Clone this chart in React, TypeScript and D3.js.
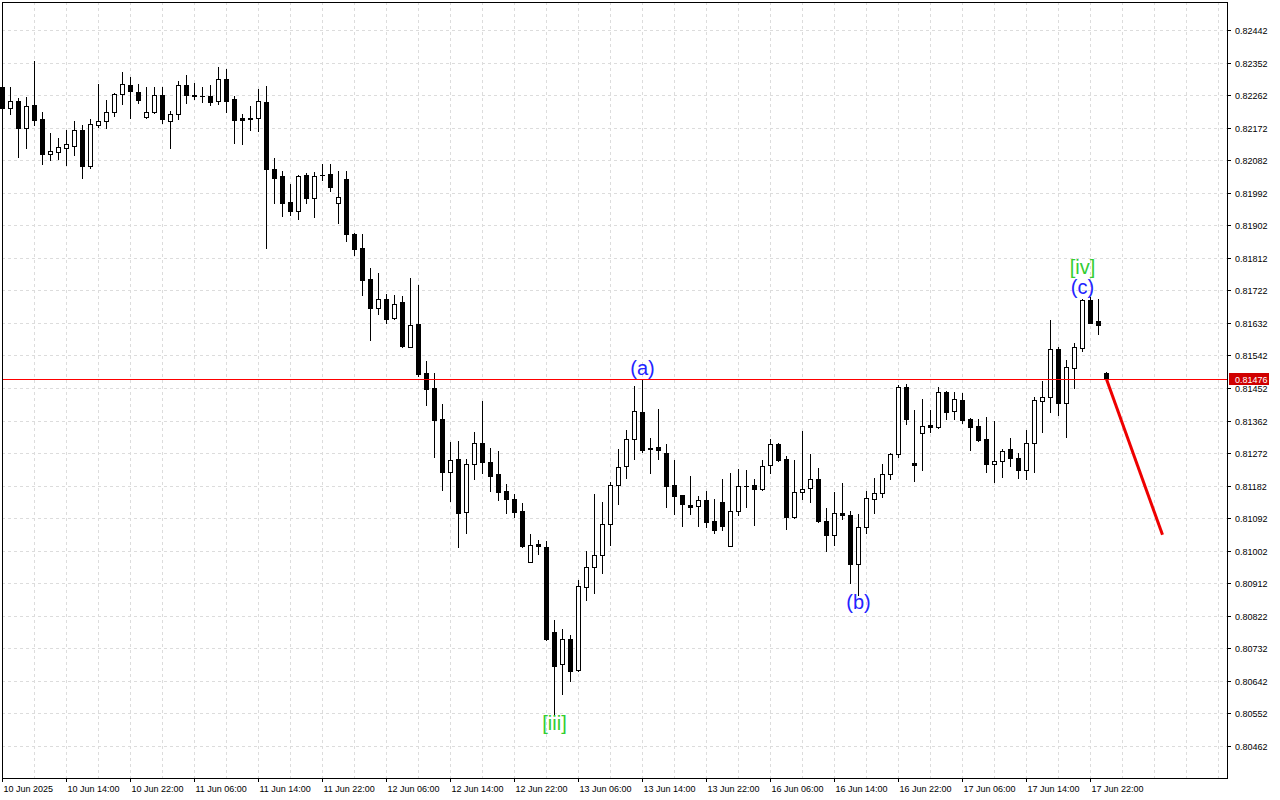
import React from "react";
import * as d3 from "d3";

// ---------- data (hourly candles, 10 Jun 06:00 .. 18 Jun 00:00) ----------
const opens = [
  0.82284, 0.82226, 0.82246, 0.82172, 0.82234, 0.82196, 0.821, 0.82106, 0.82117, 0.82122,
  0.82166, 0.82067, 0.8218, 0.8219, 0.82216, 0.82265, 0.8229, 0.8227, 0.82202, 0.82214,
  0.82261, 0.82191, 0.82209, 0.82289, 0.82263, 0.8226, 0.8226, 0.82247, 0.82306, 0.8225,
  0.82199, 0.82198, 0.82198, 0.82242, 0.82058, 0.82038, 0.81967, 0.81942, 0.82041, 0.81978,
  0.8204, 0.82043, 0.81963, 0.82029, 0.81878, 0.81838, 0.81754, 0.81674, 0.81697, 0.81646,
  0.8169, 0.81566, 0.8163, 0.81494, 0.81452, 0.81367, 0.81221, 0.81256, 0.8111, 0.81241,
  0.81299, 0.81248, 0.81214, 0.81167, 0.81144, 0.81112, 0.8097, 0.8102, 0.81013, 0.80778,
  0.80688, 0.80758, 0.80673, 0.80901, 0.80956, 0.8099, 0.81075, 0.81183, 0.81236, 0.8131,
  0.81385, 0.81286, 0.81288, 0.81273, 0.81184, 0.81156, 0.81129, 0.81125, 0.81143, 0.81084,
  0.81137, 0.81016, 0.81111, 0.8118, 0.81183, 0.81174, 0.81238, 0.81296, 0.81255, 0.81095,
  0.81165, 0.81175, 0.812, 0.81084, 0.81045, 0.81107, 0.811, 0.80965, 0.81067, 0.81144,
  0.81161, 0.81214, 0.81269, 0.81454, 0.81244, 0.81327, 0.81349, 0.81344, 0.8144, 0.81388,
  0.81418, 0.81367, 0.81346, 0.8131, 0.81243, 0.8125, 0.81283, 0.81258, 0.81225, 0.81301,
  0.81415, 0.81426, 0.81559, 0.8141, 0.81507, 0.81562, 0.81694, 0.81637, 0.81494,
];
const highs = [
  0.8229, 0.82284, 0.82253, 0.82257, 0.82357, 0.82215, 0.82157, 0.82143, 0.82165, 0.8219,
  0.82179, 0.82196, 0.82292, 0.82248, 0.82267, 0.82325, 0.82311, 0.82292, 0.82284, 0.82284,
  0.82284, 0.82218, 0.823, 0.82318, 0.82295, 0.82285, 0.82289, 0.8234, 0.82334, 0.8226,
  0.8221, 0.82232, 0.82279, 0.82287, 0.82088, 0.82052, 0.82017, 0.82042, 0.82046, 0.82049,
  0.82071, 0.82071, 0.82052, 0.82052, 0.8188, 0.81878, 0.81785, 0.8177, 0.81711, 0.81709,
  0.81707, 0.81756, 0.81737, 0.81527, 0.81494, 0.81408, 0.81303, 0.81306, 0.81256, 0.8133,
  0.81416, 0.81285, 0.81278, 0.81187, 0.81159, 0.81134, 0.81048, 0.81032, 0.81029, 0.80811,
  0.80786, 0.80769, 0.80921, 0.81001, 0.81159, 0.81137, 0.81191, 0.81283, 0.81335, 0.81458,
  0.81474, 0.81313, 0.81394, 0.81297, 0.81253, 0.81156, 0.81209, 0.81154, 0.81168, 0.81144,
  0.812, 0.81216, 0.81227, 0.81225, 0.812, 0.81253, 0.8131, 0.81299, 0.81264, 0.81252,
  0.81332, 0.8127, 0.8123, 0.81119, 0.81164, 0.81189, 0.81111, 0.81103, 0.81167, 0.81202,
  0.81241, 0.81273, 0.81461, 0.81463, 0.81391, 0.81422, 0.81391, 0.81454, 0.81443, 0.8144,
  0.81438, 0.81368, 0.81366, 0.81372, 0.81361, 0.81283, 0.81313, 0.81272, 0.81336, 0.81427,
  0.81471, 0.8164, 0.81564, 0.8153, 0.81577, 0.81697, 0.81705, 0.81697, 0.81496,
];
const lows = [
  0.82215, 0.82211, 0.82092, 0.82117, 0.82179, 0.82072, 0.82083, 0.82085, 0.82069, 0.82096,
  0.82032, 0.82061, 0.82175, 0.82172, 0.82205, 0.82237, 0.822, 0.82241, 0.822, 0.82213,
  0.82184, 0.82117, 0.82197, 0.82241, 0.8225, 0.82244, 0.82235, 0.82238, 0.82216, 0.8213,
  0.82127, 0.82166, 0.82164, 0.8184, 0.81964, 0.81929, 0.8193, 0.8192, 0.81964, 0.81926,
  0.82027, 0.81997, 0.81909, 0.81859, 0.81821, 0.81709, 0.81585, 0.81657, 0.81631, 0.81643,
  0.81566, 0.81564, 0.81486, 0.81405, 0.81262, 0.8117, 0.8114, 0.81013, 0.81052, 0.81201,
  0.81216, 0.81168, 0.81142, 0.81107, 0.81096, 0.81011, 0.8097, 0.80992, 0.80755, 0.80548,
  0.80606, 0.80643, 0.8067, 0.80866, 0.80886, 0.80941, 0.81017, 0.8113, 0.81202, 0.81257,
  0.81276, 0.81218, 0.81257, 0.81122, 0.81104, 0.81071, 0.81104, 0.81069, 0.81067, 0.8105,
  0.81059, 0.81016, 0.811, 0.81124, 0.81074, 0.81171, 0.81218, 0.81249, 0.81063, 0.81093,
  0.81146, 0.81137, 0.81082, 0.81, 0.81019, 0.81091, 0.80912, 0.8088, 0.81052, 0.81106,
  0.8115, 0.81201, 0.81262, 0.81352, 0.81196, 0.81226, 0.81331, 0.81342, 0.81367, 0.81367,
  0.81355, 0.81281, 0.81305, 0.8122, 0.81193, 0.81205, 0.81236, 0.81202, 0.812, 0.81221,
  0.81331, 0.81387, 0.81376, 0.81317, 0.81451, 0.81555, 0.81631, 0.816, 0.81474,
];
const closes = [
  0.82226, 0.82246, 0.82172, 0.82232, 0.82194, 0.82099, 0.82107, 0.82118, 0.82127, 0.82165,
  0.82067, 0.82181, 0.8219, 0.82216, 0.82265, 0.82292, 0.82272, 0.82249, 0.82214, 0.82261,
  0.82197, 0.8221, 0.82289, 0.82262, 0.82259, 0.82259, 0.82244, 0.82306, 0.82247, 0.82194,
  0.82194, 0.82197, 0.82245, 0.82057, 0.82034, 0.81964, 0.81942, 0.82038, 0.81978, 0.82038,
  0.82041, 0.82009, 0.81979, 0.81879, 0.81837, 0.81752, 0.81674, 0.81698, 0.81644, 0.81684,
  0.81569, 0.81626, 0.81491, 0.8145, 0.81364, 0.8122, 0.81252, 0.81107, 0.81242, 0.81299,
  0.81246, 0.8121, 0.81165, 0.81146, 0.8111, 0.81016, 0.81017, 0.81014, 0.80758, 0.80684,
  0.80757, 0.8067, 0.80905, 0.80957, 0.8099, 0.81075, 0.81183, 0.81233, 0.8131, 0.81388,
  0.81281, 0.81282, 0.8128, 0.81182, 0.81154, 0.8113, 0.81124, 0.81142, 0.81081, 0.8106,
  0.81071, 0.81113, 0.8118, 0.81181, 0.81174, 0.81236, 0.81296, 0.81254, 0.81094, 0.81164,
  0.81174, 0.812, 0.81084, 0.81045, 0.81106, 0.81102, 0.80965, 0.81067, 0.81147, 0.81161,
  0.81214, 0.81269, 0.81454, 0.81367, 0.8124, 0.81346, 0.81345, 0.8144, 0.81386, 0.81421,
  0.81364, 0.81345, 0.81308, 0.81243, 0.8125, 0.81277, 0.81259, 0.81225, 0.813, 0.81418,
  0.81427, 0.81559, 0.8141, 0.81509, 0.81564, 0.81694, 0.81633, 0.81626, 0.81476,
];

const priceTicks = [
  0.82442, 0.82352, 0.82262, 0.82172, 0.82082, 0.81992, 0.81902, 0.81812, 0.81722, 0.81632,
  0.81542, 0.81452, 0.81362, 0.81272, 0.81182, 0.81092, 0.81002, 0.80912, 0.80822, 0.80732,
  0.80642, 0.80552, 0.80462,
];
const timeLabels = [
  "10 Jun 2025", "10 Jun 14:00", "10 Jun 22:00", "11 Jun 06:00", "11 Jun 14:00", "11 Jun 22:00",
  "12 Jun 06:00", "12 Jun 14:00", "12 Jun 22:00", "13 Jun 06:00", "13 Jun 14:00", "13 Jun 22:00",
  "16 Jun 06:00", "16 Jun 14:00", "16 Jun 22:00", "17 Jun 06:00", "17 Jun 14:00", "17 Jun 22:00",
];
const barsPerLabel = 8;
const barsPerGrid = 4;
const currentPrice = 0.81476;

// wave labels: bar index, text, degree, side
const waveBars = [69, 80, 107, 135, 135];
const waveTexts = ["[iii]", "(a)", "(b)", "(c)", "[iv]"];
const waveDegree = ["minor", "minute", "minute", "minute", "minor"];
const waveSide = ["below", "above", "below", "above", "above2"];

// forecast arrow: bar index and price
const forecastBars = [138, 145];
const forecastPrices = [0.81476, 0.81046];

// ---------- layout ----------
const W = 1280;
const H = 800;
const plotL = 2;
const plotR = 1228;
const plotT = 2;
const plotB = 778;
const totalSlots = 153;

export default function App() {
  const x = d3.scaleLinear().domain([0, totalSlots]).range([plotL + 0.5, plotL + 0.5 + totalSlots * 8]);
  const y = d3.scaleLinear().domain([0.80462, 0.82442]).range([746, 30]);
  const ry = (v: number) => Math.round(y(v));

  const gridXs: number[] = [];
  for (let i = barsPerGrid; x(i) < plotR; i += barsPerGrid) gridXs.push(x(i));

  const candles = opens.map((o, i) => ({ o, h: highs[i], l: lows[i], c: closes[i], i }));

  const axisFont = "'Liberation Sans', Arial, sans-serif";
  const waveColor = (d: string) => (d === "minor" ? "#32cd32" : "#2424ff");
  const fs = 20;

  const forecastLine = d3.line<number>()
    .x((_, k) => x(forecastBars[k]))
    .y((p) => y(p));

  const curY = ry(currentPrice) + 0.5;

  return (
    <svg
      width={W}
      height={H}
      style={{ position: "fixed", left: 0, top: 0, background: "#fff" }}
      xmlns="http://www.w3.org/2000/svg"
    >
      <rect x={0} y={0} width={W} height={H} fill="#fff" />
      {/* grid */}
      <g stroke="#dcdcdc" strokeWidth={1} strokeDasharray="3,3" shapeRendering="crispEdges">
        {priceTicks.map((p) => (
          <line key={"h" + p} x1={plotL} x2={plotR} y1={ry(p) + 0.5} y2={ry(p) + 0.5} />
        ))}
        {gridXs.map((gx) => (
          <line key={"v" + gx} x1={gx} x2={gx} y1={plotT} y2={plotB} />
        ))}
      </g>

      {/* candles */}
      <g shapeRendering="crispEdges">
        {candles.map((d) => {
          const cx = x(d.i);
          const top = ry(Math.max(d.o, d.c));
          const bot = ry(Math.min(d.o, d.c));
          const bull = d.c > d.o;
          return (
            <g key={d.i}>
              <line x1={cx} x2={cx} y1={ry(d.h)} y2={ry(d.l) + 1} stroke="#000" strokeWidth={1} />
              {bot - top < 1 ? (
                <line x1={cx - 2.5} x2={cx + 2.5} y1={top + 0.5} y2={top + 0.5} stroke="#000" strokeWidth={1} />
              ) : (
                <rect
                  x={cx - 2}
                  y={top + 0.5}
                  width={4}
                  height={bot - top}
                  fill={bull ? "#fff" : "#000"}
                  stroke="#000"
                  strokeWidth={1}
                />
              )}
            </g>
          );
        })}
      </g>

      {/* current price line */}
      <line x1={plotL} x2={plotR} y1={curY} y2={curY} stroke="#ff0000" strokeWidth={1} shapeRendering="crispEdges" />

      {/* forecast */}
      <path d={forecastLine(forecastPrices) || ""} stroke="#ee0000" strokeWidth={3} fill="none" />

      {/* wave labels */}
      <g fontFamily={axisFont} fontSize={fs} textAnchor="middle">
        {waveBars.map((b, k) => {
          const side = waveSide[k];
          let ty = 0;
          if (side === "below") ty = y(lows[b]) + fs * 0.73;
          else if (side === "above") ty = y(highs[b]) - fs * 0.25;
          else ty = y(highs[b]) - fs * 0.25 - fs;
          return (
            <text key={k} x={x(b)} y={ty} fill={waveColor(waveDegree[k])}>
              {waveTexts[k]}
            </text>
          );
        })}
      </g>

      {/* frame */}
      <rect
        x={plotL + 0.5}
        y={plotT + 0.5}
        width={plotR - plotL - 1}
        height={plotB - plotT}
        fill="none"
        stroke="#000"
        strokeWidth={1}
        shapeRendering="crispEdges"
      />

      {/* price axis */}
      <g fontFamily={axisFont} fontSize={9} fill="#000">
        {priceTicks.map((p) => (
          <g key={"t" + p}>
            <line x1={plotR - 1} x2={plotR + 3} y1={ry(p) + 0.5} y2={ry(p) + 0.5} stroke="#000" shapeRendering="crispEdges" />
            <text x={plotR + 7} y={ry(p) + 3.5}>
              {p.toFixed(5)}
            </text>
          </g>
        ))}
        <rect x={plotR + 1} y={curY - 6.5} width={40} height={12} fill="#d00000" />
        <text x={plotR + 7} y={curY + 3.5} fill="#fff">
          {currentPrice.toFixed(5)}
        </text>
      </g>

      {/* time axis */}
      <g fontFamily={axisFont} fontSize={9} fill="#000">
        {timeLabels.map((t, k) => {
          const tx = x(k * barsPerLabel);
          return (
            <g key={t}>
              <line x1={tx} x2={tx} y1={plotB} y2={plotB + 4} stroke="#000" shapeRendering="crispEdges" />
              <text x={tx + 1} y={plotB + 14}>
                {t}
              </text>
            </g>
          );
        })}
      </g>
    </svg>
  );
}
